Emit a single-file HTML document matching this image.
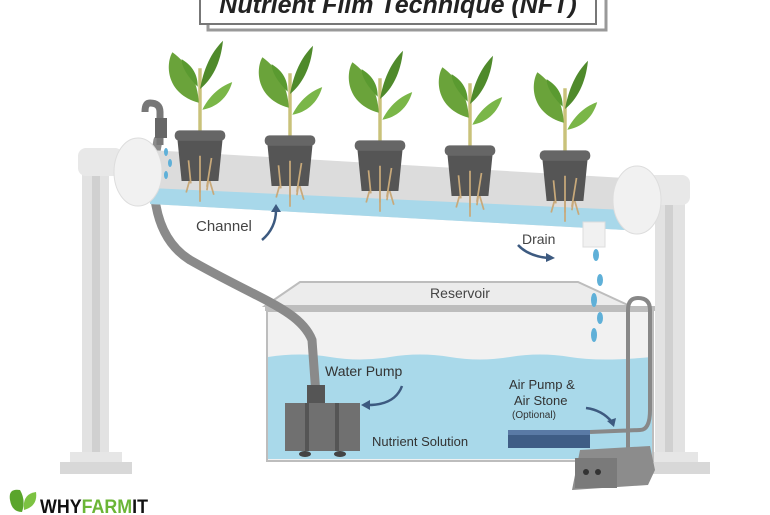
<!DOCTYPE html>
<html><head><meta charset="utf-8"><style>
html,body{margin:0;padding:0;background:#fff}
svg{display:block}
text{font-family:"Liberation Sans",sans-serif}
</style></head><body>
<svg width="770" height="515" viewBox="0 0 770 515">
<defs>
<g id="plant">
 <path d="M0 0 L0 -58" stroke="#c9c27a" stroke-width="3"/>
 <path d="M-1 -28 C-30 -36 -30 -62 -24 -72 C-10 -62 -2 -46 -1 -28Z" fill="#6aa33a"/>
 <path d="M0 -40 C4 -62 12 -74 20 -82 C18 -62 10 -48 0 -40Z" fill="#4f8a2b"/>
 <path d="M2 -22 C10 -38 22 -44 28 -46 C24 -32 14 -24 2 -22Z" fill="#7ab648"/>
 <path d="M-2 -42 C-12 -52 -16 -60 -16 -66 C-6 -60 -2 -52 -2 -42Z" fill="#5a9a30"/>
 <path d="M-12 20 L-8 42 M0 18 L0 58 M10 20 L6 48 M-5 25 L-12 50 M5 28 L12 52" stroke="#c8a97a" stroke-width="1.5"/>
 <path d="M-20 0 L20 0 L16 40 L-16 40Z" fill="#555"/>
 <rect x="-22" y="-4" width="44" height="9" rx="4" fill="#666"/>
 <path d="M-10 22 L-8 42 M0 18 L0 50 M10 20 L6 45" stroke="#c8a97a" stroke-width="1.5"/>
</g>
</defs>
<!-- title box -->
<rect x="208" y="-10" width="398" height="40" fill="#fff" stroke="#999" stroke-width="3"/>
<rect x="200" y="-14" width="396" height="38" fill="#fff" stroke="#777" stroke-width="2"/>
<text x="398" y="13" text-anchor="middle" font-family="Liberation Serif" font-style="italic" font-weight="bold" font-size="25" fill="#222">Nutrient Film Technique (NFT)</text>

<!-- posts -->
<rect x="82" y="155" width="27" height="305" fill="#e2e2e2"/>
<rect x="92" y="155" width="8" height="305" fill="#d0d0d0"/>
<rect x="70" y="452" width="52" height="10" fill="#e6e6e6"/>
<rect x="60" y="462" width="72" height="12" fill="#d8d8d8"/>
<rect x="78" y="148" width="45" height="28" rx="8" fill="#e8e8e8"/>
<rect x="655" y="180" width="30" height="280" fill="#e2e2e2"/>
<rect x="665" y="180" width="8" height="280" fill="#d0d0d0"/>
<rect x="643" y="452" width="55" height="10" fill="#e6e6e6"/>
<rect x="635" y="462" width="75" height="12" fill="#d8d8d8"/>
<rect x="648" y="175" width="42" height="30" rx="8" fill="#e8e8e8"/>

<!-- reservoir -->
<polygon points="265,306 300,282 578,282 630,306" fill="#ececec" stroke="#bdbdbd" stroke-width="2"/>
<rect x="265" y="306" width="390" height="5" fill="#bdbdbd"/>
<rect x="267" y="311" width="386" height="150" fill="#f1f1f1" stroke="#bdbdbd" stroke-width="2"/>
<path d="M268 357 Q300 352 330 357 T390 357 T450 357 T510 357 T570 357 T652 357 L652 459 L268 459 Z" fill="#a9d9ea"/>
<text x="460" y="298" text-anchor="middle" font-size="14" fill="#444">Reservoir</text>

<!-- hose to pump -->
<path d="M158 140 C150 180 150 235 190 260 C260 300 300 310 312 340 L316 395" fill="none" stroke="#8a8a8a" stroke-width="9" stroke-linecap="round"/>
<path d="M160 145 L160 112 Q160 103 150 103 Q145 103 145 112" fill="none" stroke="#777" stroke-width="7"/>
<rect x="155" y="118" width="12" height="20" fill="#666"/>

<!-- channel -->
<polygon points="150,150 625,178 625,230 150,204" fill="#dcdcdc"/>
<polygon points="150,188 625,210 625,230 150,204" fill="#a8d8ea"/>
<ellipse cx="138" cy="172" rx="24" ry="34" fill="#f1f1f1" stroke="#ddd"/>
<ellipse cx="637" cy="200" rx="24" ry="34" fill="#f1f1f1" stroke="#ddd"/>
<rect x="583" y="222" width="22" height="25" fill="#f1f1f1" stroke="#ddd"/>
<g fill="#5fb0d8">
<ellipse cx="166" cy="152" rx="2" ry="4"/><ellipse cx="170" cy="163" rx="2" ry="4"/><ellipse cx="166" cy="175" rx="2" ry="4"/>
<ellipse cx="596" cy="255" rx="3" ry="6"/><ellipse cx="600" cy="280" rx="3" ry="6"/><ellipse cx="594" cy="300" rx="3" ry="7"/><ellipse cx="600" cy="318" rx="3" ry="6"/><ellipse cx="594" cy="335" rx="3" ry="7"/>
</g>

<!-- pots and plants -->
<use href="#plant" transform="translate(200,135) scale(1.15)"/>
<use href="#plant" transform="translate(290,140) scale(1.15)"/>
<use href="#plant" transform="translate(380,145) scale(1.15)"/>
<use href="#plant" transform="translate(470,150) scale(1.15)"/>
<use href="#plant" transform="translate(565,155) scale(1.15)"/>

<!-- labels -->
<text x="196" y="231" font-size="15" fill="#444">Channel</text>
<path d="M262 240 Q276 228 276 210" fill="none" stroke="#3d5a80" stroke-width="2.5"/>
<polygon points="271,212 276,204 281,212" fill="#3d5a80"/>
<text x="522" y="244" font-size="14" fill="#444">Drain</text>
<path d="M518 245 Q528 256 548 258" fill="none" stroke="#3d5a80" stroke-width="2.5"/>
<polygon points="546,253 555,258 546,262" fill="#3d5a80"/>

<!-- water pump -->
<rect x="307" y="385" width="18" height="18" fill="#555"/>
<rect x="285" y="403" width="75" height="48" fill="#707070"/>
<rect x="305" y="403" width="4" height="48" fill="#555"/><rect x="335" y="403" width="4" height="48" fill="#555"/>
<ellipse cx="305" cy="454" rx="6" ry="3" fill="#444"/><ellipse cx="340" cy="454" rx="6" ry="3" fill="#444"/>
<text x="325" y="376" font-size="14" fill="#333">Water Pump</text>
<path d="M402 386 Q395 405 368 405" fill="none" stroke="#3d5a80" stroke-width="2.5"/>
<polygon points="370,400 361,405 370,410" fill="#3d5a80"/>
<text x="372" y="446" font-size="13" fill="#333">Nutrient Solution</text>

<!-- air pump -->
<path d="M590 432 L640 430 Q650 430 650 410 L650 310 Q650 298 638 298 Q628 298 628 310 L628 460" fill="none" stroke="#888" stroke-width="4"/>
<rect x="508" y="430" width="82" height="18" fill="#3f5d85"/>
<rect x="508" y="430" width="82" height="5" fill="#5a7aa5"/>
<text x="509" y="389" font-size="13" fill="#333">Air Pump &amp;</text>
<text x="514" y="405" font-size="13" fill="#333">Air Stone</text>
<text x="512" y="418" font-size="10" fill="#333">(Optional)</text>
<path d="M586 408 Q602 410 612 422" fill="none" stroke="#3d5a80" stroke-width="2.5"/>
<polygon points="607,421 614,427 616,418" fill="#3d5a80"/>
<polygon points="580,450 650,446 655,470 648,485 572,490" fill="#8c8c8c"/>
<rect x="575" y="458" width="42" height="30" fill="#7a7a7a"/>
<circle cx="586" cy="472" r="3" fill="#333"/><circle cx="598" cy="472" r="3" fill="#333"/>

<!-- logo -->
<path d="M10 500 Q8 488 20 490 Q26 500 22 512 Q12 512 10 500Z" fill="#5aa52c"/>
<path d="M24 510 Q22 494 36 492 Q38 506 24 510Z" fill="#7cc242"/>
<text x="40" y="513" font-size="19" font-weight="bold" fill="#111" textLength="108" lengthAdjust="spacingAndGlyphs">WHY<tspan fill="#6bb536">FARM</tspan>IT</text>
</svg>
</body></html>
